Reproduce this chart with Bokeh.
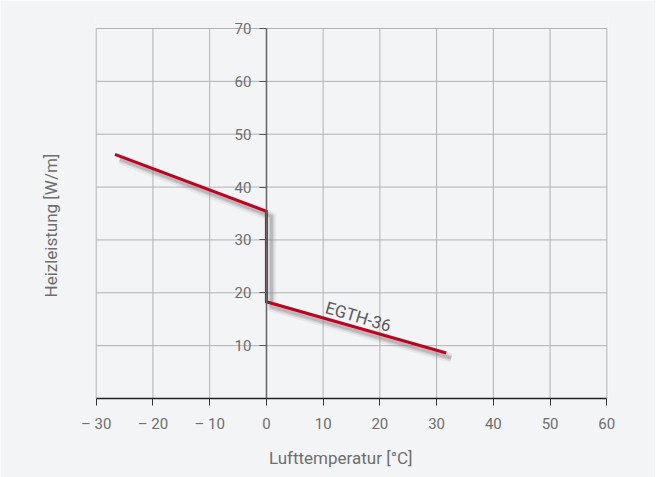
import math
from bokeh.plotting import figure
from bokeh.models import FixedTicker, Title
from bokeh.core.properties import value
from bokeh.embed import file_html
from bokeh.resources import INLINE

# data
temps = [-26.7, 0.0, 0.0, 31.7]
power = [46.2, 35.4, 18.3, 8.6]
x_ticks = [-30, -20, -10, 0, 10, 20, 30, 40, 50, 60]
x_tick_labels = ["– 30", "– 20", "– 10", "0", "10", "20", "30", "40", "50", "60"]
y_ticks = [10, 20, 30, 40, 50, 60, 70]
series_name = "EGTH-36"
label_pos = (16.2, 15.5)
x_title = "Lufttemperatur [°C]"
y_title = "Heizleistung [W/m]"

BG = "#f3f4f6"
GRID = "#b2b2b2"
TXT = "#6e6e6e"
RED = "#c4001f"
FONT = "Roboto"

x_lo, x_hi = x_ticks[0], x_ticks[-1]
y_lo, y_hi = 0, y_ticks[-1]

p = figure(
    frame_width=514, frame_height=381,
    min_border_left=94, min_border_right=47, min_border_top=17, min_border_bottom=74,
    x_range=(x_lo - 0.3, x_hi + 0.3), y_range=(y_lo, y_hi * 381 / 370),
    output_backend="svg", toolbar_location=None,
    background_fill_color=BG, border_fill_color=BG,
    outline_line_color=None,
)
p.xgrid.visible = False
p.ygrid.visible = False

# grid drawn from the tick lists, bounded to the chart box
p.segment(x0=x_ticks, y0=[y_lo] * len(x_ticks), x1=x_ticks, y1=[y_hi] * len(x_ticks),
          line_color=GRID, line_width=1)
p.segment(x0=[x_lo] * len(y_ticks), y0=y_ticks, x1=[x_hi] * len(y_ticks), y1=y_ticks,
          line_color=GRID, line_width=1)

# x axis (bottom)
xa = p.xaxis[0]
xa.ticker = FixedTicker(ticks=x_ticks)
xa.bounds = (x_lo, x_hi)
xa.major_label_overrides = {t: l for t, l in zip(x_ticks, x_tick_labels)}
xa.axis_line_color = "#222222"
xa.axis_line_width = 1.5
xa.major_tick_line_color = "#333333"
xa.major_tick_out = 7
xa.major_tick_in = 0
xa.minor_tick_line_color = None
xa.major_label_text_font = FONT
xa.major_label_text_font_size = "15px"
xa.major_label_text_color = TXT
xa.major_label_standoff = 9

# y axis drawn at x = 0
ya = p.yaxis[0]
ya.fixed_location = 0
ya.bounds = (y_lo, y_hi)
ya.ticker = FixedTicker(ticks=y_ticks)
ya.axis_line_color = "#666666"
ya.axis_line_width = 1.5
ya.major_tick_line_color = "#555555"
ya.major_tick_out = 7
ya.major_tick_in = 0
ya.minor_tick_line_color = None
ya.major_label_text_font = FONT
ya.major_label_text_font_size = "15px"
ya.major_label_text_color = TXT
ya.major_label_standoff = 8

# shadow (offset copy of the curve)
shadow_dx = 5 / (510 / 90)
shadow_dy = 5 / (370 / 70)
sx = [t + shadow_dx for t in temps]
sy = [v - shadow_dy for v in power]
p.line(sx, sy, line_color="#909090", line_width=10, line_alpha=0.12, line_join="round")
p.line(sx, sy, line_color="#888888", line_width=6, line_alpha=0.22, line_join="round")
p.line(sx, sy, line_color="#7a7a7a", line_width=3, line_alpha=0.3, line_join="round")

# curve
p.line(temps, power, line_color=RED, line_width=3, line_join="miter")

# curve label
p.text(x=[label_pos[0]], y=[label_pos[1]], text=[series_name], angle=-0.29,
       text_font=value(FONT), text_font_size="17px", text_color="#5a5a5a",
       text_align="center", text_baseline="middle")

# axis titles
p.add_layout(Title(text=x_title, align="right", offset=196, standoff=20,
                   text_font=FONT, text_font_size="17px", text_color=TXT,
                   text_font_style="normal"), "below")
p.add_layout(Title(text=y_title, align="left", offset=101, standoff=67,
                   text_font=FONT, text_font_size="17px", text_color=TXT,
                   text_font_style="normal"), "left")

open("out.html", "w").write(file_html(p, INLINE))
